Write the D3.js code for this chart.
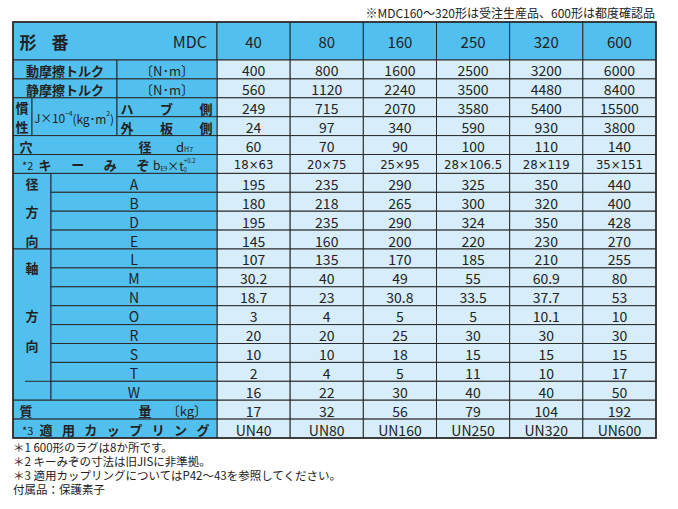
<!DOCTYPE html>
<html><head><meta charset="utf-8">
<script src="https://cdn.jsdelivr.net/npm/d3@7"></script>
<style>body{margin:0;background:#fff;font-family:"Noto Sans CJK JP",sans-serif;}</style>
</head><body><div id="chart"></div>
<script>
var models = ["40", "80", "160", "250", "320", "600"];
var rowKeys = ["dyn", "stat", "hub", "plate", "hole", "key", "A", "B", "D", "E", "L", "M", "N", "O", "R", "S", "T", "W", "mass", "coup"];
var values = [
  ["400", "800", "1600", "2500", "3200", "6000"],
  ["560", "1120", "2240", "3500", "4480", "8400"],
  ["249", "715", "2070", "3580", "5400", "15500"],
  ["24", "97", "340", "590", "930", "3800"],
  ["60", "70", "90", "100", "110", "140"],
  ["18×63", "20×75", "25×95", "28×106.5", "28×119", "35×151"],
  ["195", "235", "290", "325", "350", "440"],
  ["180", "218", "265", "300", "320", "400"],
  ["195", "235", "290", "324", "350", "428"],
  ["145", "160", "200", "220", "230", "270"],
  ["107", "135", "170", "185", "210", "255"],
  ["30.2", "40", "49", "55", "60.9", "80"],
  ["18.7", "23", "30.8", "33.5", "37.7", "53"],
  ["3", "4", "5", "5", "10.1", "10"],
  ["20", "20", "25", "30", "30", "30"],
  ["10", "10", "18", "15", "15", "15"],
  ["2", "4", "5", "11", "10", "17"],
  ["16", "22", "30", "40", "40", "50"],
  ["17", "32", "56", "79", "104", "192"],
  ["UN40", "UN80", "UN160", "UN250", "UN320", "UN600"]
];
var notes = ["＊1 600形のラグは8か所です。", "＊2 キーみぞの寸法は旧JISに非準拠。",
  "＊3 適用カップリングについてはP42～43を参照してください。", "付属品：保護素子"];

var W = 678, H = 509, X0 = 13, XL = 217, X1 = 656, Y0 = 22, YH = 60, Y1 = 438;
var BLUE = "#52c0ee", LIGHT = "#d7eefa", LINE = "#2a2a2a";
var svg = d3.select("#chart").append("svg").attr("width", W).attr("height", H);
var x = d3.scaleBand().domain(models).range([XL, X1]);
var y = d3.scaleBand().domain(rowKeys).range([YH, Y1]);
var bw = x.bandwidth(), bh = y.bandwidth();

function rect(x0, y0, w, h, fill) {
  svg.append("rect").attr("x", x0).attr("y", y0).attr("width", w).attr("height", h)
    .attr("fill", fill).attr("stroke", LINE).attr("stroke-width", 1);
}
function text(t, tx, ty, anchor, size, weight) {
  return svg.append("text").attr("x", tx).attr("y", ty).attr("text-anchor", anchor || "middle")
    .attr("dominant-baseline", "central").attr("font-size", size || 14)
    .attr("font-weight", weight || "normal").attr("fill", "#222").text(t);
}
function spread(t, a, b, ty, size) {
  var chars = t.split(""), n = chars.length;
  chars.forEach(function(c, i) { text(c, n == 1 ? (a + b) / 2 : a + (b - a) * i / (n - 1), ty, "middle", size || 13, "bold"); });
}

// header
rect(X0, Y0, XL - X0, YH - Y0, BLUE);
text("形", 28, 41, "middle", 17, "bold"); text("番", 60, 41, "middle", 17, "bold");
text("MDC", 207, 41, "end", 16);
models.forEach(function(m) { rect(x(m), Y0, bw, YH - Y0, BLUE); text(m, x(m) + bw / 2, 41, "middle", 15); });

// value cells
rowKeys.forEach(function(k, i) {
  models.forEach(function(m, j) {
    rect(x(m), y(k), bw, bh, LIGHT);
    text(values[i][j], x(m) + bw / 2, y(k) + bh / 2 + 1, "middle", k == "key" ? 13 : 14)
      .attr("font-family", k == "key" ? "'Liberation Sans Narrow','DejaVu Sans Condensed',sans-serif" : null);
  });
});

var cy = function(k) { return y(k) + bh / 2 + 1; };
// torque rows
["dyn", "stat"].forEach(function(k, i) {
  rect(X0, y(k), 117 - X0, bh, BLUE); rect(117, y(k), XL - 117, bh, BLUE);
  text(i ? "静摩擦トルク" : "動摩擦トルク", 65, cy(k), "middle", 13, "bold");
  text("〔N･m〕", 167, cy(k), "middle", 13);
});
// inertia
rect(X0, y("hub"), 32 - X0, 2 * bh, BLUE); rect(32, y("hub"), 117 - 32, 2 * bh, BLUE);
rect(117, y("hub"), XL - 117, bh, BLUE); rect(117, y("plate"), XL - 117, bh, BLUE);
text("慣", 22, y("hub") + bh / 2, "middle", 13, "bold"); text("性", 22, y("plate") + bh / 2, "middle", 13, "bold");
svg.append("text").attr("x", 34).attr("y", y("plate") + 1).attr("dominant-baseline", "central")
  .attr("font-size", 12).attr("fill", "#222").attr("textLength", 80)
  .html('J×10<tspan dy="-5" font-size="7">−4</tspan><tspan dy="5">(kg･m</tspan><tspan dy="-5" font-size="7">2</tspan><tspan dy="5">)</tspan>');
spread("ハブ側", 127, 206, cy("hub")); spread("外板側", 127, 206, cy("plate"));
// hole
rect(X0, y("hole"), XL - X0, bh, BLUE);
text("穴", 26, cy("hole"), "middle", 13, "bold"); text("径", 145, cy("hole"), "middle", 13, "bold");
svg.append("text").attr("x", 176).attr("y", cy("hole")).attr("dominant-baseline", "central").attr("font-size", 13).attr("fill", "#222")
  .html('d<tspan dy="3" font-size="7">H7</tspan>');
// key
rect(X0, y("key"), XL - X0, bh, BLUE);
text("*2", 22, cy("key"), "start", 11);
spread("キーみぞ", 45, 143, cy("key"));
svg.append("text").attr("x", 153).attr("y", cy("key")).attr("dominant-baseline", "central").attr("font-size", 12).attr("fill", "#222")
  .html('b<tspan dy="3" font-size="6">E9</tspan><tspan dy="-3">×t</tspan><tspan dy="-5" font-size="6">+0.2</tspan><tspan dx="-12" dy="9" font-size="6">0</tspan>');
// radial / axial groups
function group(keys, chars) {
  var top = y(keys[0]), h = bh * keys.length;
  rect(X0, top, 51 - X0, h, BLUE);
  keys.forEach(function(k) { rect(51, y(k), XL - 51, bh, BLUE); text(k, 134, cy(k), "middle", 14); });
  chars.forEach(function(c) { text(c[0], 32, c[1], "middle", 13, "bold"); });
}
group(["A", "B", "D", "E"], [["径", cy("A")], ["方", y("D")], ["向", cy("E")]]);
group(["L", "M", "N", "O", "R", "S", "T", "W"], [["軸", y("M")], ["方", y("O") + bh / 2], ["向", y("S") + 2]]);
svg.append("line").attr("x1", 25).attr("x2", 51).attr("y1", y("W")).attr("y2", y("W")).attr("stroke", LINE);
// mass
rect(X0, y("mass"), XL - X0, bh, BLUE);
text("質", 26, cy("mass"), "middle", 13, "bold"); text("量", 145, cy("mass"), "middle", 13, "bold");
text("〔kg〕", 207, cy("mass"), "end", 13);
// coupling
rect(X0, y("coup"), XL - X0, bh, BLUE);
text("*3", 22, cy("coup"), "start", 11);
spread("適用カップリング", 46, 203, cy("coup"));
// outer border
svg.append("rect").attr("x", X0).attr("y", Y0).attr("width", X1 - X0).attr("height", Y1 - Y0)
  .attr("fill", "none").attr("stroke", LINE).attr("stroke-width", 1.6);

text("※MDC160～320形は受注生産品、600形は都度確認品", 655, 12, "end", 12);
notes.forEach(function(n, i) { text(n, 13, 447 + i * 14, "start", 11.5); });
</script></body></html>
